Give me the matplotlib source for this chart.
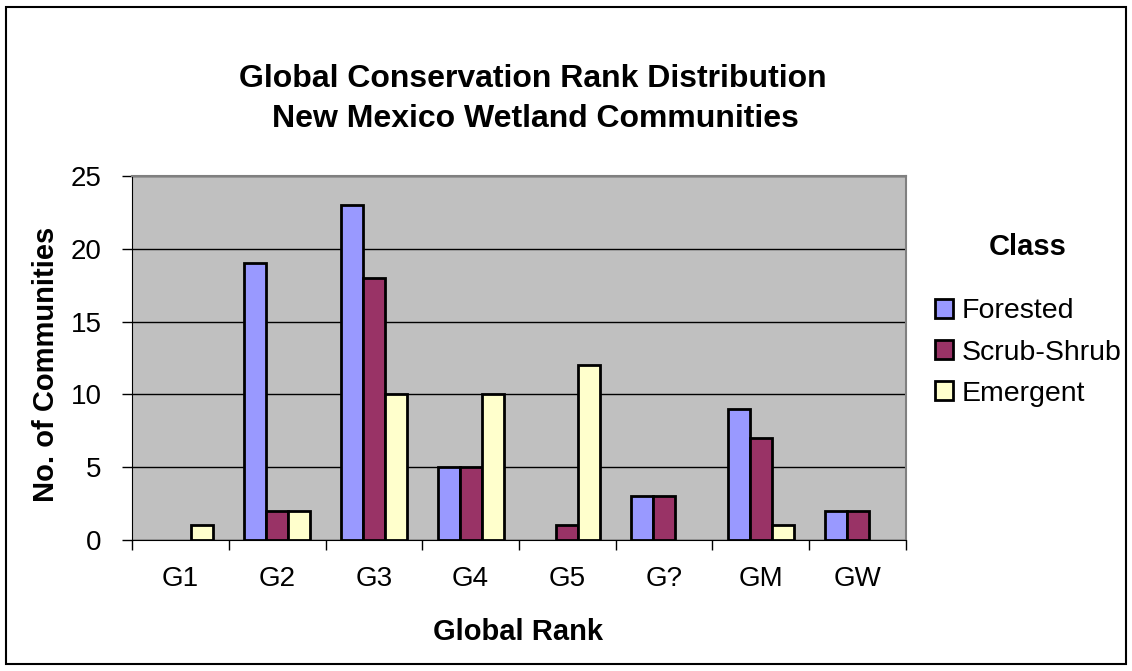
import matplotlib
matplotlib.use("Agg")
import numpy as np
from matplotlib import pyplot as plt
from matplotlib.patches import Rectangle

plt.rcParams["font.family"] = ["Liberation Sans", "DejaVu Sans"]

ranks = ["G1", "G2", "G3", "G4", "G5", "G?", "GM", "GW"]
forested = [0, 19, 23, 5, 0, 3, 9, 2]
scrub_shrub = [0, 2, 18, 5, 1, 3, 7, 2]
emergent = [1, 2, 10, 10, 12, 0, 1, 0]
series_names = ["Forested", "Scrub-Shrub", "Emergent"]
colors = ["#9999FF", "#993366", "#FFFFCC"]

W, H = 1132, 671
fig = plt.figure(figsize=(W / 100, H / 100), dpi=100)
ax = fig.add_axes([132 / W, 1 - 540 / H, 774 / W, 364 / H])
ax.set_facecolor("#C0C0C0")

x = np.arange(len(ranks))
w = 0.228
for i, (vals, name, col) in enumerate(zip([forested, scrub_shrub, emergent], series_names, colors)):
    vals = np.array(vals, dtype=float)
    heights = np.where(vals > 0, vals, np.nan)
    ax.bar(x + (i - 1) * w, heights, w, color=col, edgecolor="black", linewidth=2.0,
           label=name, zorder=3)

ax.set_xlim(-0.5, len(ranks) - 0.5)
ax.set_ylim(0, 25)
ax.set_yticks(np.arange(0, 26, 5))
ax.yaxis.grid(True, color="black", linewidth=1.0, zorder=0)
ax.set_axisbelow(True)

ax.set_xticks(x)
ax.set_xticklabels(ranks, fontsize=20)
ax.tick_params(axis="x", length=0, pad=19)
ax.set_xticks(np.arange(-0.5, len(ranks), 1), minor=True)
ax.tick_params(axis="x", which="minor", length=7, width=1, direction="out")
ax.tick_params(axis="y", labelsize=20, length=7, width=1, direction="out", pad=15)

for s in ["top", "right"]:
    ax.spines[s].set_color("#808080")
    ax.spines[s].set_linewidth(1.5)
ax.spines["left"].set_color("black")
ax.spines["bottom"].set_color("black")

# axis titles placed like the Excel chart
fig.text(518 / W, 1 - 632 / H, "Global Rank", ha="center", va="center",
         fontsize=21, fontweight="bold")
fig.text(46 / W, 1 - 364 / H, "No. of Communities", ha="center", va="center",
         rotation=90, fontsize=21, fontweight="bold")

fig.text(533 / W, 1 - 87 / H, "Global Conservation Rank Distribution",
         ha="center", va="baseline", fontsize=23, fontweight="bold")
fig.text(535 / W, 1 - 127 / H, "New Mexico Wetland Communities",
         ha="center", va="baseline", fontsize=23, fontweight="bold")

leg = fig.legend(loc="upper left", bbox_to_anchor=(935 / W, 1 - 233 / H), frameon=False,
                 fontsize=20.5, title="Class", handlelength=0.62, handleheight=0.62,
                 handletextpad=0.3, labelspacing=0.53, borderpad=0, borderaxespad=0)
leg.get_title().set_fontweight("bold")
leg.get_title().set_fontsize(21)
leg._legend_box.sep = 27
for p in leg.get_patches():
    p.set_linewidth(2.0)

fig.patches.append(Rectangle((6 / W, 7 / H), 1120 / W, 657 / H, transform=fig.transFigure,
                             fill=False, edgecolor="black", linewidth=1.5))

fig.savefig("out.png", dpi=100)
